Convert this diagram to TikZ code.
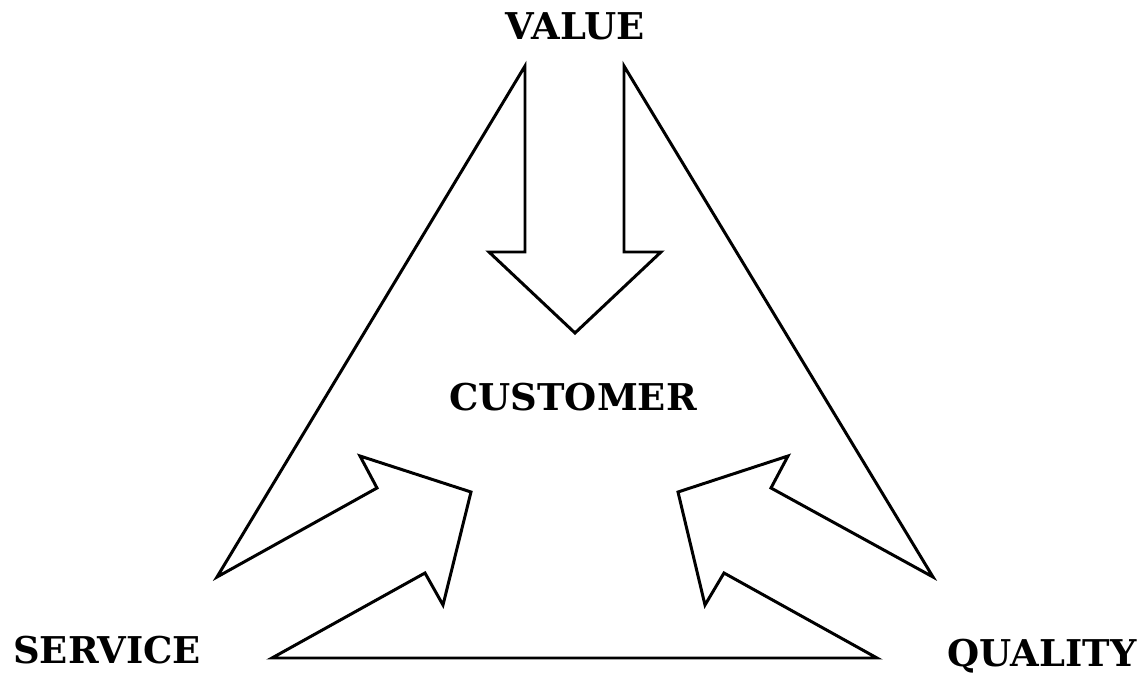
\documentclass[tikz,border=0pt]{standalone}
\usepackage{fontspec}
\setmainfont{DejaVu Serif}
\usetikzlibrary{positioning}

\tikzset{
  outline/.style={draw=black, line width=1.7pt, line join=miter},
  label/.style={font=\bfseries\fontsize{21}{24}\selectfont, inner sep=0pt, anchor=base}
}

\begin{document}
\begin{tikzpicture}[x=0.02cm, y=-0.02cm]
  \useasboundingbox (0,0) rectangle (1144,675);

  % triangle with the three inward arrows
  \draw[outline] (525,66) -- (525,252) -- (489,252) -- (575,333) -- (661,252)
    -- (624,252) -- (624,66) -- (933,577) -- (771,488) -- (788,456)
    -- (678,492) -- (705,605) -- (724,573) -- (877,658) -- (272,658)
    -- (425,573) -- (443,605) -- (471,492) -- (360,456) -- (377,488)
    -- (217,577) -- cycle;

  % labels
  \node[label] (value) at (575,40) {VALUE};
  \node[label] (customer) at (573,411) {CUSTOMER};
  \node[label] (service) at (107,664) {SERVICE};
  \node[label] (quality) at (1042,667) {QUALITY};
\end{tikzpicture}
\end{document}
